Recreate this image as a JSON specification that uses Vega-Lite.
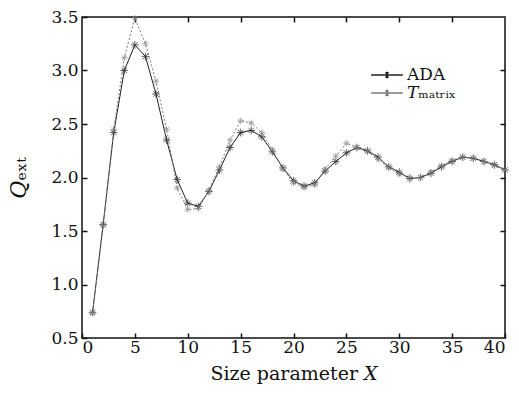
{
  "$schema": "https://vega.github.io/schema/vega-lite/v6.json",
  "autosize": {"type": "none"},
  "padding": {"left": 82, "top": 17, "right": 14, "bottom": 69},
  "width": 423,
  "height": 321,
  "background": "white",
  "config": {
    "view": {"stroke": "#111", "strokeWidth": 1.5},
    "axis": {
      "domain": false,
      "grid": false,
      "tickColor": "#111",
      "tickWidth": 1.5,
      "tickSize": -5,
      "labelColor": "#111",
      "labelFont": "DejaVu Serif",
      "titleFont": "DejaVu Serif",
      "titleFontWeight": "normal",
      "titleColor": "#111"
    }
  },
  "data": {
    "values": [
      {"X": 1, "Qext": 0.74, "method": "ADA"},
      {"X": 2, "Qext": 1.56, "method": "ADA"},
      {"X": 3, "Qext": 2.42, "method": "ADA"},
      {"X": 4, "Qext": 3.0, "method": "ADA"},
      {"X": 5, "Qext": 3.24, "method": "ADA"},
      {"X": 6, "Qext": 3.13, "method": "ADA"},
      {"X": 7, "Qext": 2.78, "method": "ADA"},
      {"X": 8, "Qext": 2.35, "method": "ADA"},
      {"X": 9, "Qext": 1.98, "method": "ADA"},
      {"X": 10, "Qext": 1.76, "method": "ADA"},
      {"X": 11, "Qext": 1.73, "method": "ADA"},
      {"X": 12, "Qext": 1.87, "method": "ADA"},
      {"X": 13, "Qext": 2.07, "method": "ADA"},
      {"X": 14, "Qext": 2.28, "method": "ADA"},
      {"X": 15, "Qext": 2.42, "method": "ADA"},
      {"X": 16, "Qext": 2.44, "method": "ADA"},
      {"X": 17, "Qext": 2.38, "method": "ADA"},
      {"X": 18, "Qext": 2.24, "method": "ADA"},
      {"X": 19, "Qext": 2.09, "method": "ADA"},
      {"X": 20, "Qext": 1.97, "method": "ADA"},
      {"X": 21, "Qext": 1.92, "method": "ADA"},
      {"X": 22, "Qext": 1.95, "method": "ADA"},
      {"X": 23, "Qext": 2.06, "method": "ADA"},
      {"X": 24, "Qext": 2.15, "method": "ADA"},
      {"X": 25, "Qext": 2.23, "method": "ADA"},
      {"X": 26, "Qext": 2.28, "method": "ADA"},
      {"X": 27, "Qext": 2.25, "method": "ADA"},
      {"X": 28, "Qext": 2.19, "method": "ADA"},
      {"X": 29, "Qext": 2.1, "method": "ADA"},
      {"X": 30, "Qext": 2.05, "method": "ADA"},
      {"X": 31, "Qext": 1.99, "method": "ADA"},
      {"X": 32, "Qext": 2.0, "method": "ADA"},
      {"X": 33, "Qext": 2.04, "method": "ADA"},
      {"X": 34, "Qext": 2.1, "method": "ADA"},
      {"X": 35, "Qext": 2.15, "method": "ADA"},
      {"X": 36, "Qext": 2.19, "method": "ADA"},
      {"X": 37, "Qext": 2.18, "method": "ADA"},
      {"X": 38, "Qext": 2.15, "method": "ADA"},
      {"X": 39, "Qext": 2.12, "method": "ADA"},
      {"X": 40, "Qext": 2.07, "method": "ADA"},
      {"X": 1, "Qext": 0.73, "method": "T-matrix"},
      {"X": 2, "Qext": 1.55, "method": "T-matrix"},
      {"X": 3, "Qext": 2.45, "method": "T-matrix"},
      {"X": 4, "Qext": 3.12, "method": "T-matrix"},
      {"X": 5, "Qext": 3.49, "method": "T-matrix"},
      {"X": 6, "Qext": 3.25, "method": "T-matrix"},
      {"X": 7, "Qext": 2.9, "method": "T-matrix"},
      {"X": 8, "Qext": 2.45, "method": "T-matrix"},
      {"X": 9, "Qext": 1.9, "method": "T-matrix"},
      {"X": 10, "Qext": 1.7, "method": "T-matrix"},
      {"X": 11, "Qext": 1.71, "method": "T-matrix"},
      {"X": 12, "Qext": 1.88, "method": "T-matrix"},
      {"X": 13, "Qext": 2.1, "method": "T-matrix"},
      {"X": 14, "Qext": 2.35, "method": "T-matrix"},
      {"X": 15, "Qext": 2.53, "method": "T-matrix"},
      {"X": 16, "Qext": 2.51, "method": "T-matrix"},
      {"X": 17, "Qext": 2.42, "method": "T-matrix"},
      {"X": 18, "Qext": 2.26, "method": "T-matrix"},
      {"X": 19, "Qext": 2.08, "method": "T-matrix"},
      {"X": 20, "Qext": 1.95, "method": "T-matrix"},
      {"X": 21, "Qext": 1.91, "method": "T-matrix"},
      {"X": 22, "Qext": 1.93, "method": "T-matrix"},
      {"X": 23, "Qext": 2.08, "method": "T-matrix"},
      {"X": 24, "Qext": 2.2, "method": "T-matrix"},
      {"X": 25, "Qext": 2.32, "method": "T-matrix"},
      {"X": 26, "Qext": 2.28, "method": "T-matrix"},
      {"X": 27, "Qext": 2.24, "method": "T-matrix"},
      {"X": 28, "Qext": 2.17, "method": "T-matrix"},
      {"X": 29, "Qext": 2.09, "method": "T-matrix"},
      {"X": 30, "Qext": 2.03, "method": "T-matrix"},
      {"X": 31, "Qext": 2.0, "method": "T-matrix"},
      {"X": 32, "Qext": 2.0, "method": "T-matrix"},
      {"X": 33, "Qext": 2.05, "method": "T-matrix"},
      {"X": 34, "Qext": 2.11, "method": "T-matrix"},
      {"X": 35, "Qext": 2.16, "method": "T-matrix"},
      {"X": 36, "Qext": 2.19, "method": "T-matrix"},
      {"X": 37, "Qext": 2.18, "method": "T-matrix"},
      {"X": 38, "Qext": 2.15, "method": "T-matrix"},
      {"X": 39, "Qext": 2.11, "method": "T-matrix"},
      {"X": 40, "Qext": 2.07, "method": "T-matrix"}
    ]
  },
  "resolve": {"axis": {"x": "independent", "y": "independent"}},
  "layer": [
    {
      "transform": [{"filter": "datum.method == 'ADA'"}],
      "mark": {"type": "line", "strokeWidth": 1},
      "encoding": {
        "x": {
          "field": "X", "type": "quantitative",
          "scale": {"domain": [0, 40], "nice": false},
          "axis": {"values": [0, 5, 10, 15, 20, 25, 30, 35, 40], "title": "Size parameter 𝑋", "labelFontSize": 17, "titleFontSize": 19, "labelPadding": 6, "titlePadding": 9}
        },
        "y": {
          "field": "Qext", "type": "quantitative",
          "scale": {"domain": [0.5, 3.5], "nice": false, "zero": false},
          "axis": {"values": [0.5, 1, 1.5, 2, 2.5, 3, 3.5], "format": ".1f", "title": "𝑄ₑₓₜ", "labelFontSize": 17, "titleFontSize": 22, "labelPadding": 9, "titlePadding": 20}
        },
        "stroke": {
          "field": "method", "type": "nominal",
          "scale": {"domain": ["ADA", "T-matrix"], "range": ["#222222", "#7a7a7a"]},
          "legend": {
            "orient": "none",
            "legendX": 296,
            "legendY": 49,
            "padding": 0,
            "title": null,
            "labelExpr": "datum.label == 'ADA' ? 'ADA' : '𝑇ₘₐₜᵣᵢₓ'",
            "labelFont": "DejaVu Serif",
            "labelFontSize": 17,
            "labelColor": "#111",
            "symbolType": "M-2,0L2,0M-0.15,-0.38L0.15,0.38M-0.15,0.38L0.15,-0.38M0,-0.42L0,0.42",
            "symbolSize": 250,
            "symbolStrokeWidth": 1.5,
            "symbolStrokeColor": "#111",
            "rowPadding": 1,
            "labelOffset": 11
          }
        }
      }
    },
    {
      "transform": [{"filter": "datum.method == 'T-matrix'"}],
      "mark": {"type": "line", "strokeWidth": 1, "strokeDash": [2, 2]},
      "encoding": {
        "x": {"field": "X", "type": "quantitative", "axis": null},
        "y": {"field": "Qext", "type": "quantitative", "axis": null},
        "stroke": {"field": "method", "type": "nominal", "legend": null}
      }
    },
    {
      "transform": [{"filter": "datum.method == 'ADA'"}],
      "mark": {"type": "point", "filled": false, "strokeWidth": 1, "size": 60, "stroke": "#222222", "shape": "M-1,0L1,0M0,-1L0,1M-0.7,-0.7L0.7,0.7M-0.7,0.7L0.7,-0.7"},
      "encoding": {
        "x": {"field": "X", "type": "quantitative", "axis": null},
        "y": {"field": "Qext", "type": "quantitative", "axis": null}
      }
    },
    {
      "transform": [{"filter": "datum.method == 'T-matrix'"}],
      "mark": {"type": "point", "filled": false, "strokeWidth": 1, "size": 40, "stroke": "#8a8a8a", "shape": "M-1,0L1,0M0,-1L0,1M-0.7,-0.7L0.7,0.7M-0.7,0.7L0.7,-0.7"},
      "encoding": {
        "x": {"field": "X", "type": "quantitative", "axis": null},
        "y": {"field": "Qext", "type": "quantitative", "axis": null}
      }
    },
    {
      "mark": {"type": "point", "opacity": 0},
      "encoding": {
        "x": {"field": "X", "type": "quantitative", "axis": {"orient": "top", "values": [5, 10, 15, 20, 25, 30, 35], "labels": false, "title": null}},
        "y": {"field": "Qext", "type": "quantitative", "axis": {"orient": "right", "values": [1, 1.5, 2, 2.5, 3], "labels": false, "title": null}}
      }
    }
  ]
}
